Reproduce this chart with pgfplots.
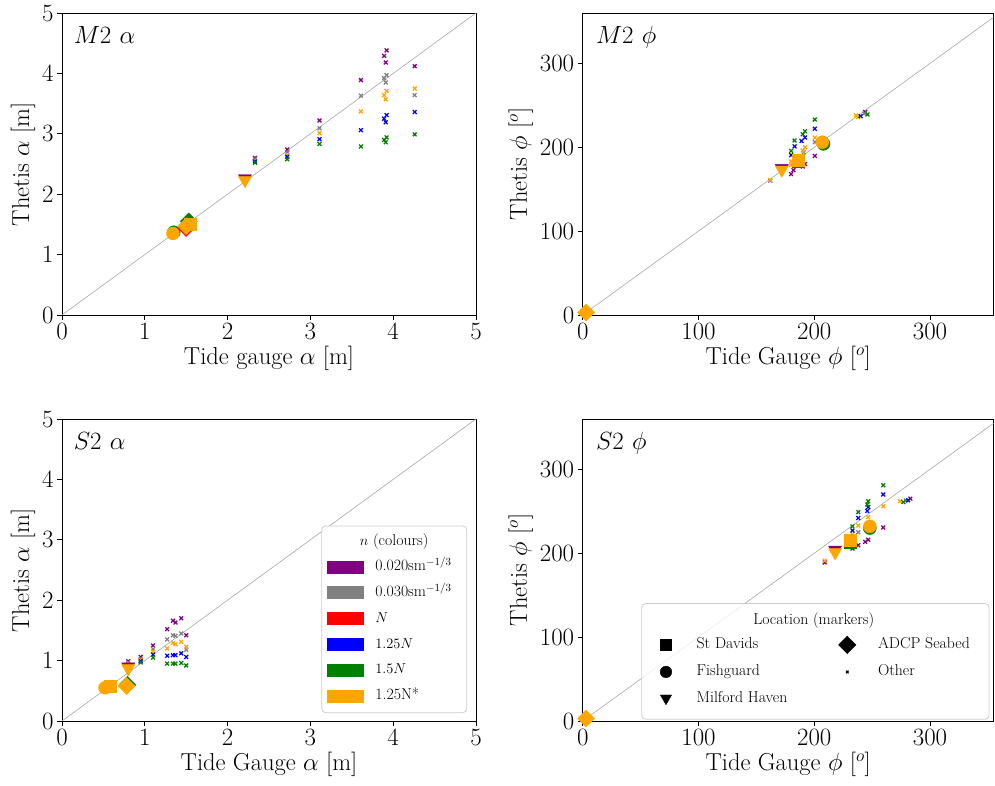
\documentclass[border=0pt]{standalone}
\usepackage{pgfplots}
\pgfplotsset{compat=1.18}
\definecolor{mplpurple}{HTML}{800080}
\definecolor{mplgray}{HTML}{808080}
\definecolor{mplred}{HTML}{FF0000}
\definecolor{mplblue}{HTML}{0000FF}
\definecolor{mplgreen}{HTML}{008000}
\definecolor{mplorange}{HTML}{FFA500}
\newcommand{\tfont}{\fontsize{24.5}{29}\selectfont}
\newcommand{\lfont}{\fontsize{15.75}{18}\selectfont}
\newcommand{\hfont}{\fontsize{27.3}{31}\selectfont}
\tikzset{ptitle/.style={anchor=base west, font=\hfont, inner sep=0pt}}
\pgfplotsset{
  panel/.style={scale only axis, height=302pt,
    axis line style={line width=0.9pt},
    tick align=outside, major tick length=5pt,
    tick style={line width=0.9pt, black},
    xtick pos=bottom, ytick pos=left,
    tick label style={font=\tfont}, label style={font=\tfont},
    clip=true},
  sx/.style={only marks, mark=x, mark size=2.7pt, mark options={line width=1.25pt}, forget plot},
  bsq/.style={only marks, mark=square*, mark size=6pt, forget plot},
  bci/.style={only marks, mark=*, mark size=6.5pt, forget plot},
  btr/.style={only marks, mark=triangle*, mark size=7.5pt, mark options={rotate=180}, forget plot},
  bdi/.style={only marks, mark=square*, mark size=6pt, mark options={rotate=45}, forget plot},
  diag/.style={no marks, black!35, line width=0.6pt, forget plot},
  mklegend/.style={legend image code/.code={\path[draw=none,fill=none] (0pt,-6pt) rectangle (32pt,6pt); \draw[mark repeat=2,mark phase=2,##1] plot coordinates {(0pt,0pt) (16pt,0pt) (32pt,0pt)};}},
  patchlegend/.style={legend image code/.code={\fill[#1] (0pt,-6pt) rectangle (36pt,6pt);}},
}
\begin{document}
\begin{tikzpicture}
\useasboundingbox (0pt,0pt) rectangle (995pt,786pt);
% ---------------- top left: M2 alpha
\begin{axis}[panel, at={(62pt,471pt)}, anchor=south west, width=414pt,
  xmin=0, xmax=5, ymin=0, ymax=5, xtick={0,1,2,3,4,5}, ytick={0,1,2,3,4,5},
  xlabel={Tide gauge $\alpha$ [m]}, ylabel={Thetis $\alpha$ [m]}]
\addplot[diag] coordinates {(0,0) (5,5)};
\addplot[sx, mplpurple] coordinates {(2.33,2.60) (2.72,2.74) (3.11,3.22) (3.61,3.89) (3.92,4.38) (3.89,4.29) (3.91,4.18) (4.26,4.12)};
\addplot[sx, mplgray] coordinates {(2.33,2.58) (2.72,2.70) (3.11,3.09) (3.61,3.63) (3.92,3.97) (3.89,3.92) (3.91,3.85) (4.26,3.64)};
\addplot[sx, mplorange] coordinates {(2.33,2.55) (2.72,2.65) (3.11,3.01) (3.61,3.37) (3.92,3.71) (3.89,3.64) (3.91,3.57) (4.26,3.75)};
\addplot[sx, mplblue] coordinates {(2.33,2.54) (2.72,2.62) (3.11,2.91) (3.61,3.06) (3.92,3.31) (3.89,3.25) (3.91,3.19) (4.26,3.36)};
\addplot[sx, mplgreen] coordinates {(2.33,2.52) (2.72,2.58) (3.11,2.83) (3.61,2.79) (3.92,2.94) (3.89,2.90) (3.91,2.86) (4.26,2.99)};
\addplot[bci, mplgreen] coordinates {(1.35,1.37)};
\addplot[bci, mplorange] coordinates {(1.34,1.35)};
\addplot[bdi, mplgreen] coordinates {(1.53,1.55)};
\addplot[bdi, mplred] coordinates {(1.50,1.44)};
\addplot[bsq, mplorange] coordinates {(1.55,1.50)};
\addplot[bdi, mplorange] coordinates {(1.50,1.47)};
\addplot[btr, mplpurple] coordinates {(2.21,2.26)};
\addplot[btr, mplorange] coordinates {(2.21,2.23)};
\node[ptitle] at (axis description cs:0.028,0.900) {$M2$ $\alpha$};
\end{axis}
% ---------------- top right: M2 phi
\begin{axis}[panel, at={(582.7pt,471pt)}, anchor=south west, width=411pt,
  xmin=0, xmax=355, ymin=0, ymax=360, xtick={0,100,200,300}, ytick={0,100,200,300},
  xlabel={Tide Gauge $\phi$ [$^o$]}, ylabel={Thetis $\phi$ [$^o$]}]
\addplot[diag] coordinates {(0,0) (360,360)};
\addplot[sx, mplpurple] coordinates {(200.5,189.7) (192,180) (190,177) (182,172.6) (180,168) (244,242)};
\addplot[sx, mplgray] coordinates {(191,194) (162,160) (243,240) (200.5,206)};
\addplot[sx, mplorange] coordinates {(200.5,211.5) (192,200) (190,196) (180,183) (180,178.6) (236,238) (238,236) (162,161)};
\addplot[sx, mplblue] coordinates {(200.5,222) (192,211.5) (189,207.5) (183,201) (180,190.5) (240,237)};
\addplot[sx, mplgreen] coordinates {(200.5,233) (192,219) (190,215.5) (183,208) (180,195.6) (246,239)};
\addplot[bsq, mplgreen] coordinates {(186,183)};
\addplot[bsq, mplorange] coordinates {(186,185)};
\addplot[bci, mplgreen] coordinates {(208,204)};
\addplot[bci, mplorange] coordinates {(207,206)};
\addplot[btr, mplpurple] coordinates {(172,175)};
\addplot[btr, mplorange] coordinates {(172,173)};
\addplot[bdi, mplorange] coordinates {(3,3)};
\node[ptitle] at (axis description cs:0.032,0.900) {$M2$ $\phi$};
\end{axis}
% ---------------- bottom left: S2 alpha
\begin{axis}[panel, at={(62pt,65pt)}, anchor=south west, width=414pt,
  xmin=0, xmax=5, ymin=0, ymax=5, xtick={0,1,2,3,4,5}, ytick={0,1,2,3,4,5},
  xlabel={Tide Gauge $\alpha$ [m]}, ylabel={Thetis $\alpha$ [m]},
  legend cell align=left,
  legend style={at={(axis description cs:0.6408,0.5374)}, anchor=north west,
    draw=none, fill=none, inner sep=0pt, outer sep=0pt, font=\lfont,
    row sep=9.8pt, nodes={inner sep=0pt, text height=12pt, text depth=4pt},
    /tikz/every odd column/.append style={column sep=11.7pt}}]
\addplot[diag] coordinates {(0,0) (5,5)};
\addplot[sx, mplpurple] coordinates {(0.80,0.99) (0.95,1.06) (1.10,1.25) (1.27,1.52) (1.34,1.66) (1.37,1.63) (1.44,1.70) (1.50,1.42)};
\addplot[sx, mplgray] coordinates {(0.80,0.97) (0.95,1.03) (1.10,1.19) (1.27,1.35) (1.34,1.42) (1.37,1.41) (1.44,1.45) (1.50,1.18)};
\addplot[sx, mplorange] coordinates {(0.80,0.95) (0.95,1.01) (1.10,1.15) (1.27,1.20) (1.34,1.29) (1.37,1.27) (1.44,1.31) (1.50,1.23)};
\addplot[sx, mplblue] coordinates {(0.80,0.93) (0.95,0.99) (1.10,1.10) (1.27,1.08) (1.34,1.09) (1.37,1.09) (1.44,1.12) (1.50,1.06)};
\addplot[sx, mplgreen] coordinates {(0.80,0.92) (0.95,0.97) (1.10,1.05) (1.27,0.95) (1.34,0.95) (1.37,0.95) (1.44,0.96) (1.50,0.92)};
\addplot[bsq, mplorange] coordinates {(0.58,0.58)};
\addplot[bci, mplorange] coordinates {(0.52,0.55)};
\addplot[bdi, mplgreen] coordinates {(0.79,0.60)};
\addplot[bdi, mplorange] coordinates {(0.78,0.58)};
\addplot[btr, mplpurple] coordinates {(0.80,0.90)};
\addplot[btr, mplorange] coordinates {(0.80,0.87)};
\node[ptitle] at (axis description cs:0.028,0.900) {$S2$ $\alpha$};
\draw[rounded corners=4pt, line width=0.8pt, draw=black!20, fill=white, fill opacity=0.8] (axis cs:3.137,0.137) rectangle (axis cs:4.888,3.23);
\node[font=\lfont, inner sep=0pt] at (axis cs:4.012,2.969) {$n$ (colours)};
\addlegendimage{patchlegend=mplpurple}
\addlegendentry{0.020sm$^{-1/3}$}
\addlegendimage{patchlegend=mplgray}
\addlegendentry{0.030sm$^{-1/3}$}
\addlegendimage{patchlegend=mplred}
\addlegendentry{$N$}
\addlegendimage{patchlegend=mplblue}
\addlegendentry{$1.25N$}
\addlegendimage{patchlegend=mplgreen}
\addlegendentry{$1.5N$}
\addlegendimage{patchlegend=mplorange}
\addlegendentry{1.25N*}
\end{axis}
% ---------------- bottom right: S2 phi
\begin{axis}[panel, at={(582.7pt,65pt)}, anchor=south west, width=411pt,
  xmin=0, xmax=355, ymin=0, ymax=360, xtick={0,100,200,300}, ytick={0,100,200,300},
  xlabel={Tide Gauge $\phi$ [$^o$]}, ylabel={Thetis $\phi$ [$^o$]},
  legend columns=2, legend cell align=left,
  legend style={at={(axis description cs:0.1637,0.2811)}, anchor=north west,
    draw=none, fill=none, inner sep=0pt, outer sep=0pt, font=\lfont,
    row sep=10.3pt, nodes={inner sep=0pt, text height=12pt, text depth=4pt},
    /tikz/every odd column/.append style={column sep=14.7pt},
    /tikz/every even column/.append style={column sep=44pt}}]
\addplot[diag] coordinates {(0,0) (360,360)};
\addplot[sx, mplpurple] coordinates {(259.6,230.6) (246.6,216) (244,213.5) (238,209.5) (233,205.6) (283,265) (209,189)};
\addplot[sx, mplgray] coordinates {(238,225) (233,220) (279,263)};
\addplot[sx, mplorange] coordinates {(259.6,256) (246.6,243) (238,233) (233,223) (274,262) (209,191)};
\addplot[sx, mplblue] coordinates {(259.6,270) (246.6,255) (245.8,250.4) (238,242) (233,227) (281,263)};
\addplot[sx, mplgreen] coordinates {(259.6,281) (246.6,262) (245.8,258) (238,249) (233,232) (277,261)};
\addplot[bsq, mplgreen] coordinates {(231,213)};
\addplot[bsq, mplorange] coordinates {(231,215)};
\addplot[bci, mplgreen] coordinates {(248,230)};
\addplot[bci, mplorange] coordinates {(248,232)};
\addplot[btr, mplpurple] coordinates {(218,204)};
\addplot[btr, mplorange] coordinates {(218,201)};
\addplot[bdi, mplorange] coordinates {(3,3)};
\node[ptitle] at (axis description cs:0.032,0.900) {$S2$ $\phi$};
\draw[rounded corners=4pt, line width=0.8pt, draw=black!20, fill=white, fill opacity=0.8] (axis cs:51,2) rectangle (axis cs:351,140);
\node[font=\lfont, inner sep=0pt] at (axis cs:199.5,120.2) {Location (markers)};
\addlegendimage{only marks, black, mark=square*, mark size=5.5pt, mklegend}
\addlegendentry{St Davids}
\addlegendimage{only marks, black, mark=square*, mark size=6.2pt, mark options={rotate=45}, mklegend}
\addlegendentry{ADCP Seabed}
\addlegendimage{only marks, black, mark=*, mark size=5.8pt, mklegend}
\addlegendentry{Fishguard}
\addlegendimage{only marks, black, mark=x, mark size=1.8pt, mark options={line width=1.1pt}, mklegend}
\addlegendentry{Other}
\addlegendimage{only marks, black, mark=triangle*, mark size=6.5pt, mark options={rotate=180}, mklegend}
\addlegendentry{Milford Haven}
\end{axis}
\end{tikzpicture}
\end{document}
